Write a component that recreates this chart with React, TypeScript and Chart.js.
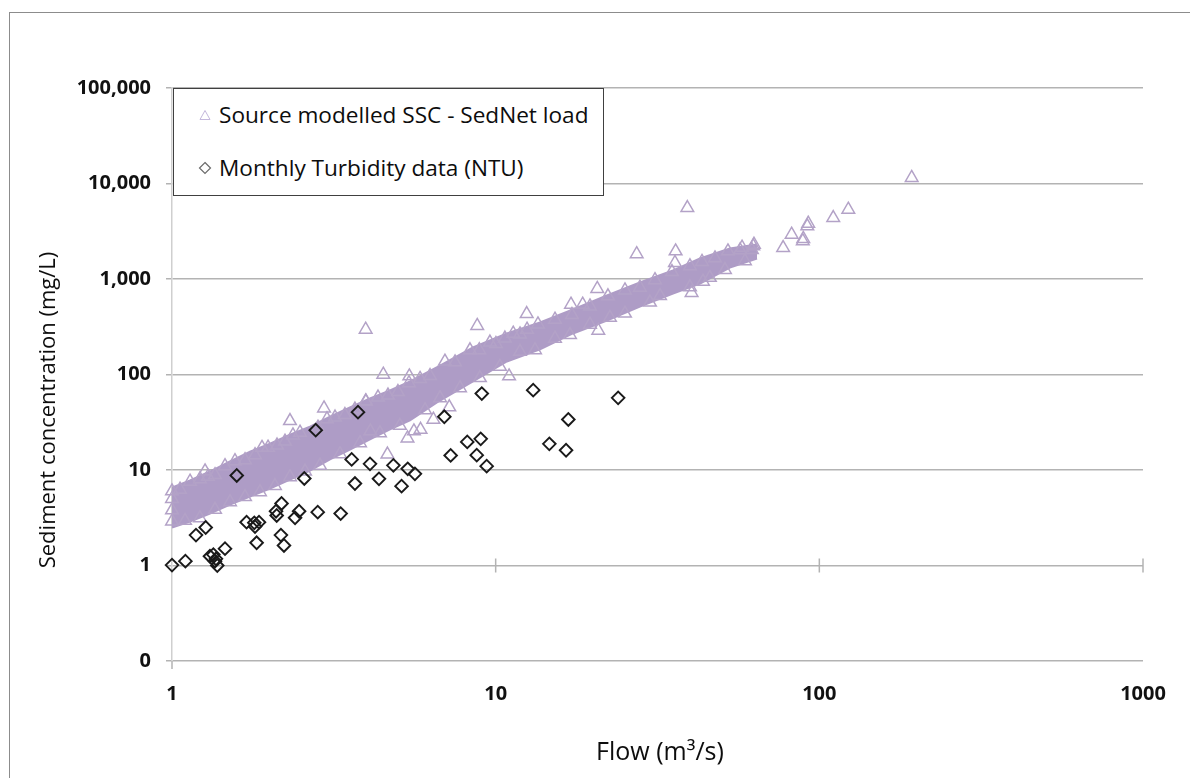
import React, { useEffect, useRef } from 'react';
import { Chart, registerables } from 'chart.js';

Chart.register(...registerables);

// ---- axis ticks ----
const flowTicks = [1, 10, 100, 1000];
const concTicks = [0.1, 1, 10, 100, 1000, 10000, 100000];

// ---- dense SedNet band (outer envelope of the overlapping triangle cloud) ----
const bandFlow = [1.0, 1.137, 1.31, 1.511, 1.742, 2.008, 2.315, 2.669, 3.077, 3.547, 4.09, 4.716, 5.436, 6.73, 8.51, 10.83, 13.71, 17.33, 22.07, 27.9, 35.3, 42.8, 52.9, 64.2];
const bandUpper = [6.56, 7.76, 9.64, 12.27, 15.6, 18.9, 23.5, 28.5, 36.3, 45.1, 56.1, 68.0, 84.5, 124, 192, 269, 350, 479, 672, 919, 1227, 1640, 2086, 2298];
const bandLower = [2.5, 2.89, 3.5, 4.35, 5.28, 6.4, 7.95, 9.88, 12.9, 16.4, 20.9, 26.6, 33.0, 53.4, 84.5, 137, 183, 269, 368, 515, 705, 898, 1319, 1640];

// ---- Source modelled SSC - SedNet load (individual visible triangles) ----
const sscFlow = [
  // outliers
  3.966, 4.496, 5.41, 6.97, 2.949, 2.315, 7.19, 6.42, 5.86, 5.59, 5.34, 4.63, 4.1, 3.966, 1.265,
  8.77, 8.9, 10.02, 11.0, 11.33, 12.5, 12.47, 17.09, 18.57, 20.6, 20.75, 27.27, 35.97, 35.8, 39.1,
  40.3, 43.7, 57.7, 62.5, 62.8, 77.3, 82.1, 89.2, 88.9, 91.8, 92.4, 110.4, 122.9, 192.9,
  // upper edge of cloud
  1.0586, 1.22, 1.358, 1.565, 1.805, 1.98, 2.234, 2.486, 2.825, 3.189, 3.675, 4.33, 4.99, 5.84,
  7.49, 9.6, 11.89, 15.25, 19.56, 25.09, 31.06, 39.84, 47.6, 56.9,
  1.137, 1.292, 1.458, 1.681, 1.897, 2.111, 2.364, 3.012, 3.422, 3.975, 4.649, 5.397, 6.27, 8.33,
  10.68, 13.51, 17.21, 22.23, 27.9, 35.05, 43.4, 52.2, 61.9,
  // lower edge of cloud
  1.097, 1.358, 1.681, 2.08, 2.576, 3.304, 4.39, 6.05, 7.76, 10.31, 13.23, 16.97, 22.55, 29.97, 39.84, 51.1,
  1.22, 1.511, 1.87, 2.315, 2.866, 3.81, 5.06, 6.73, 8.94, 11.89, 15.25, 19.56, 25.09, 32.2, 45.9, 58.9,
  // left end
  1.0, 1.0, 1.0, 1.0,
];
const sscConc = [
  296, 100, 96, 137, 44.3, 32.7, 45.5, 33.8, 26.5, 25.5, 21.5, 14.6, 25.5, 52.5, 9.71,
  323.6, 180.5, 209.6, 96, 268.8, 296, 432, 541, 541, 790, 289, 1827, 1955, 1478, 5566,
  717, 941, 2137, 2205, 2298, 2121, 2924, 2636, 2500, 3572, 3812, 4373, 5343, 11475,
  6.25, 8.05, 8.87, 12.42, 14.36, 17.2, 19.9, 24.7, 27.9, 35.6, 43.2, 57.7, 65.7, 90.2,
  134.5, 216.8, 264, 376.6, 517.8, 761.6, 976, 1365, 1651, 2003,
  7.58, 8.55, 11.01, 12.73, 17.12, 18.1, 23.1, 34.2, 37.8, 52.4, 60.4, 81.5, 96.9, 180,
  239, 336, 421, 662, 815, 1187, 1514, 1955, 2017,
  2.945, 3.85, 5.22, 6.83, 9.69, 14.71, 24.4, 42.5, 72.2, 121, 180.5, 260.4, 394.3, 568.9, 823, 1248,
  3.144, 4.62, 5.88, 8.45, 11.15, 19.17, 29.2, 56.7, 92.1, 173.3, 238, 334, 436, 665, 1032, 1543,
  2.9, 3.8, 5.0, 6.0,
];

// ---- Monthly Turbidity data (NTU) ----
const turbFlow = [1.0, 1.1, 1.186, 1.271, 1.31, 1.342, 1.367, 1.358, 1.38, 1.458, 1.585, 1.7, 1.796, 1.857, 1.805, 1.826, 2.18, 2.096, 2.106, 2.17, 2.218, 2.4, 2.47, 2.563, 2.78, 2.82, 3.32, 3.59, 3.675, 3.755, 4.09, 4.36, 4.83, 5.12, 5.35, 5.63, 6.94, 7.26, 8.17, 8.99, 8.74, 9.38, 9.06, 13.06, 14.65, 16.77, 16.5, 23.9];
const turbConc = [1.01, 1.11, 2.08, 2.5, 1.25, 1.3, 1.175, 1.11, 1.0, 1.5, 8.76, 2.84, 2.8, 2.84, 2.56, 1.73, 4.46, 3.7, 3.34, 2.08, 1.62, 3.16, 3.7, 8.15, 26.1, 3.62, 3.5, 12.9, 7.22, 40.3, 11.6, 8.09, 11.2, 6.77, 10.3, 9.12, 36.1, 14.2, 19.7, 21.2, 14.3, 10.96, 63.2, 68.5, 18.8, 33.8, 16.1, 57.0];

const sscLabel = 'Source modelled SSC - SedNet load';
const turbLabel = 'Monthly Turbidity data (NTU)';

const PURPLE = '#b3a2c7';
const BAND = '#ae9cc6';
const GRID = '#b3b3b3';
const FONT = "'Open Sans', 'DejaVu Sans', sans-serif";

const pts = (xs: number[], ys: number[]) => xs.map((x, i) => ({ x, y: ys[i] }));

const axisTicks = {
  id: 'axisTicks',
  beforeDatasetsDraw(chart: any) {
    const { ctx, scales } = chart;
    const x = scales.x;
    const y = scales.y;
    const y1 = y.getPixelForValue(1);
    ctx.save();
    ctx.strokeStyle = GRID;
    ctx.lineWidth = 1.5;
    flowTicks.forEach((v) => {
      const px = x.getPixelForValue(v);
      ctx.beginPath();
      if (v === 1) {
        ctx.moveTo(px, y.bottom);
        ctx.lineTo(px, y.bottom + 8);
      } else {
        ctx.moveTo(px, y1 - 7);
        ctx.lineTo(px, y1 + 7);
      }
      ctx.stroke();
    });
    ctx.restore();
  },
};

function TriangleIcon() {
  return (
    <svg width="14" height="12" viewBox="0 0 14 12" style={{ display: 'block' }}>
      <polygon points="7,1.5 12,10.5 2,10.5" fill="none" stroke="#c4b8dc" strokeWidth="1" />
    </svg>
  );
}

function DiamondIcon() {
  return (
    <svg width="14" height="14" viewBox="0 0 14 14" style={{ display: 'block' }}>
      <polygon points="7,1.5 12.5,7 7,12.5 1.5,7" fill="none" stroke="#6b6b6b" strokeWidth="1.2" />
    </svg>
  );
}

export default function App() {
  const canvasRef = useRef<HTMLCanvasElement | null>(null);

  useEffect(() => {
    if (!canvasRef.current) return;
    const chart = new Chart(canvasRef.current, {
      type: 'scatter',
      data: {
        datasets: [
          {
            label: turbLabel,
            type: 'scatter',
            data: pts(turbFlow, turbConc),
            pointStyle: 'rectRot',
            pointRadius: 6.3,
            borderWidth: 1.9,
            borderColor: '#1a1a1a',
            backgroundColor: 'rgba(0,0,0,0)',
            clip: false,
          } as any,
          {
            label: sscLabel,
            type: 'scatter',
            data: pts(sscFlow, sscConc),
            pointStyle: 'triangle',
            pointRadius: 7.3,
            borderWidth: 1.5,
            borderColor: PURPLE,
            backgroundColor: 'rgba(0,0,0,0)',
            clip: false,
          } as any,
          {
            label: 'band-upper',
            type: 'line',
            data: pts(bandFlow, bandUpper),
            fill: '+1',
            backgroundColor: BAND,
            borderColor: BAND,
            borderWidth: 2,
            pointRadius: 0,
            tension: 0,
          } as any,
          {
            label: 'band-lower',
            type: 'line',
            data: pts(bandFlow, bandLower),
            fill: false,
            borderColor: BAND,
            borderWidth: 2,
            pointRadius: 0,
            tension: 0,
          } as any,
        ],
      },
      options: {
        animation: false,
        responsive: false,
        events: [],
        layout: { padding: { top: 88, right: 47, left: 0, bottom: 0 } },
        plugins: {
          legend: { display: false },
          tooltip: { enabled: false },
          title: { display: false },
        },
        scales: {
          x: {
            type: 'logarithmic',
            min: 1,
            max: 1000,
            afterBuildTicks: (s: any) => {
              s.ticks = flowTicks.map((v) => ({ value: v }));
            },
            afterFit: (s: any) => {
              s.height = 117;
            },
            ticks: {
              autoSkip: false,
              maxRotation: 0,
              padding: 21,
              color: '#111',
              font: { family: FONT, size: 20, weight: 'bold' },
              callback: (v: any) => String(v),
            },
            grid: { display: false, drawTicks: false },
            border: { display: false },
          },
          y: {
            type: 'logarithmic',
            min: 0.1,
            max: 100000,
            afterBuildTicks: (s: any) => {
              s.ticks = concTicks.map((v) => ({ value: v }));
            },
            afterFit: (s: any) => {
              s.width = 172;
            },
            ticks: {
              autoSkip: false,
              padding: 15,
              color: '#111',
              font: { family: FONT, size: 20, weight: 'bold' },
              callback: (v: any) => (Number(v) < 0.5 ? '0' : Number(v).toLocaleString('en-US')),
            },
            grid: { color: GRID, lineWidth: 1.5, tickLength: 6, drawTicks: true },
            border: { color: '#cfcfcf', width: 1.5 },
          },
        },
      } as any,
      plugins: [axisTicks],
    });
    return () => chart.destroy();
  }, []);

  return (
    <div
      style={{
        position: 'fixed',
        left: 0,
        top: 0,
        width: 1190,
        height: 778,
        overflow: 'hidden',
        background: '#fff',
        fontFamily: FONT,
        color: '#0d0d0d',
      }}
    >
      <div
        style={{
          position: 'absolute',
          left: 9,
          top: 12,
          width: 1300,
          height: 900,
          borderTop: '1px solid #8c8c8c',
          borderLeft: '1px solid #8c8c8c',
        }}
      />
      <canvas ref={canvasRef} width={1190} height={778} style={{ position: 'absolute', left: 0, top: 0 }} />
      <div
        style={{
          position: 'absolute',
          left: 173,
          top: 88,
          width: 431,
          height: 108,
          boxSizing: 'border-box',
          border: '1px solid #404040',
          background: '#fff',
        }}
      >
        <div style={{ position: 'absolute', left: 24, top: 20 }}>
          <TriangleIcon />
        </div>
        <div style={{ position: 'absolute', left: 45, top: 11, fontSize: 22.6, lineHeight: '30px', whiteSpace: 'nowrap' }}>
          {sscLabel}
        </div>
        <div style={{ position: 'absolute', left: 24, top: 72 }}>
          <DiamondIcon />
        </div>
        <div style={{ position: 'absolute', left: 45, top: 64, fontSize: 22.6, lineHeight: '30px', whiteSpace: 'nowrap' }}>
          {turbLabel}
        </div>
      </div>
      <div
        style={{
          position: 'absolute',
          left: 46,
          top: 410,
          width: 500,
          textAlign: 'center',
          fontSize: 22,
          lineHeight: '30px',
          whiteSpace: 'nowrap',
          transform: 'translate(-50%, -50%) rotate(-90deg)',
        }}
      >
        Sediment concentration (mg/L)
      </div>
      <div
        style={{
          position: 'absolute',
          left: 660,
          top: 750,
          width: 400,
          textAlign: 'center',
          fontSize: 25,
          lineHeight: '32px',
          whiteSpace: 'nowrap',
          transform: 'translate(-50%, -50%)',
        }}
      >
        Flow (m³/s)
      </div>
    </div>
  );
}
